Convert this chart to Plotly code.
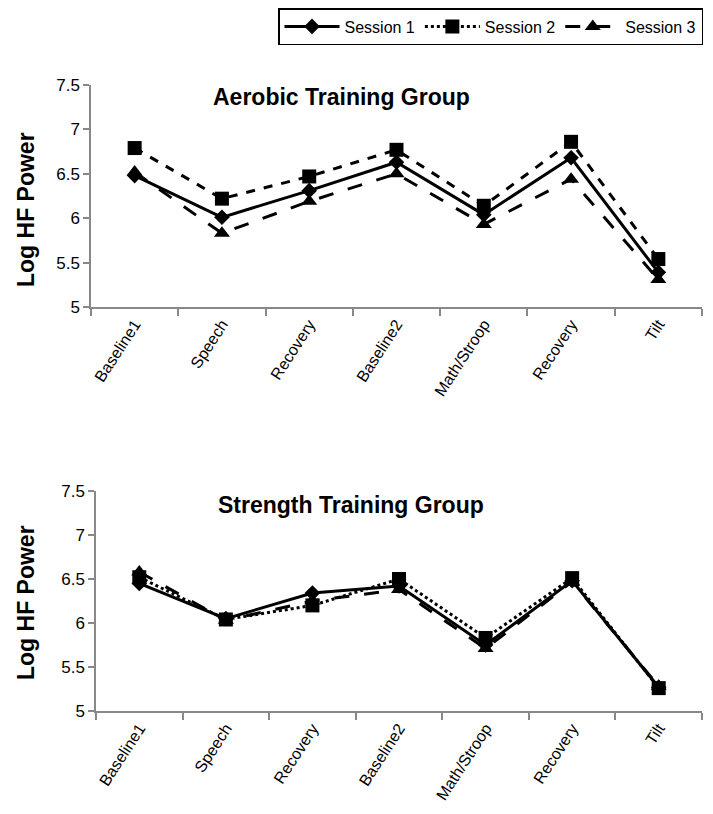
import plotly.graph_objects as go

phases = ["Baseline1", "Speech", "Recovery", "Baseline2", "Math/Stroop", "Recovery", "Tilt"]
sessions = ["Session 1", "Session 2", "Session 3"]

aerobic_s1 = [6.48, 6.01, 6.31, 6.63, 6.04, 6.68, 5.39]
aerobic_s2 = [6.79, 6.22, 6.47, 6.77, 6.14, 6.86, 5.54]
aerobic_s3 = [6.52, 5.83, 6.19, 6.50, 5.93, 6.44, 5.31]

strength_s1 = [6.45, 6.05, 6.34, 6.42, 5.75, 6.48, 5.27]
strength_s2 = [6.52, 6.04, 6.20, 6.50, 5.83, 6.51, 5.26]
strength_s3 = [6.58, 6.03, 6.25, 6.38, 5.71, 6.47, 5.28]

x = list(range(len(phases)))
markers = ["diamond", "square", "triangle-up"]
msizes = [12, 14, 14]

# page body has an 8px margin, so the figure is a bit smaller than the window
OFF = 8
W, H = 713 - OFF, 814 - OFF
L, T = 91 - OFF, 85 - OFF
R, B = 11, 103
PW, PH = W - L - R, H - T - B


def px(xp):
    return (xp - OFF - L) / PW


def py(yp):
    return 1 - (yp - OFF - T) / PH


fig = go.Figure()

# top panel: aerobic group (square line drawn dashed as in the original)
top_dash = ["solid", "dash", "longdash"]
for name, vals, sym, ms, dash in zip(sessions, [aerobic_s1, aerobic_s2, aerobic_s3], markers, msizes, top_dash):
    fig.add_trace(go.Scatter(
        x=x, y=vals, name=name, mode="lines+markers",
        line=dict(color="black", width=3, dash=dash),
        marker=dict(symbol=sym, size=ms, color="black"),
        xaxis="x", yaxis="y", showlegend=False
    ))

# bottom panel: strength group
bot_dash = ["solid", "dot", "longdash"]
for name, vals, sym, ms, dash in zip(sessions, [strength_s1, strength_s2, strength_s3], markers, msizes, bot_dash):
    fig.add_trace(go.Scatter(
        x=x, y=vals, name=name, mode="lines+markers",
        line=dict(color="black", width=3, dash=dash),
        marker=dict(symbol=sym, size=ms, color="black"),
        xaxis="x2", yaxis="y2"
    ))

xcommon = dict(
    range=[-0.5, 6.5], tickmode="array", tickvals=x, ticktext=phases,
    tickangle=-57, ticks="", showline=True, linecolor="#888", linewidth=1.5,
    showgrid=False, zeroline=False, automargin=False,
    tickfont=dict(family="Liberation Sans, Arial", size=16, color="black"),
    minor=dict(tick0=-0.5, dtick=1, ticks="outside", ticklen=7, tickcolor="#888", tickwidth=1.5),
)
ycommon = dict(
    range=[5, 7.5], tickmode="array", tickvals=[5, 5.5, 6, 6.5, 7, 7.5],
    ticktext=["5", "5.5", "6", "6.5", "7", "7.5"],
    ticks="outside", ticklen=6, tickcolor="#888", tickwidth=1.5,
    showline=True, linecolor="#888", linewidth=1.5,
    showgrid=False, zeroline=False, automargin=False,
    tickfont=dict(family="Liberation Sans, Arial", size=17, color="black"),
)

title_font = dict(family="Liberation Sans, Arial", size=23, color="black")

fig.update_layout(
    width=W, height=H,
    margin=dict(l=L, r=R, t=T, b=B, autoexpand=False),
    plot_bgcolor="white", paper_bgcolor="white",
    xaxis=dict(domain=[0, 1], anchor="y", **xcommon),
    yaxis=dict(domain=[py(307), 1], anchor="x", **ycommon),
    xaxis2=dict(domain=[px(96), 1], anchor="y2", **xcommon),
    yaxis2=dict(domain=[0, py(491)], anchor="x2", **ycommon),
    legend=dict(
        orientation="h", x=px(278), y=py(8), xanchor="left", yanchor="top",
        bordercolor="black", borderwidth=1.5, bgcolor="white",
        font=dict(family="Liberation Sans, Arial", size=16, color="black"),
        itemwidth=55,
    ),
    annotations=[
        dict(text="<b>Aerobic Training Group</b>", xref="paper", yref="paper",
             x=px(341), y=py(97), xanchor="center", yanchor="middle",
             showarrow=False, font=title_font),
        dict(text="<b>Strength Training Group</b>", xref="paper", yref="paper",
             x=px(351), y=py(505), xanchor="center", yanchor="middle",
             showarrow=False, font=title_font),
        dict(text="<b>Log HF Power</b>", xref="paper", yref="paper",
             x=px(26), y=py(210), xanchor="center", yanchor="middle",
             textangle=-90, showarrow=False, font=title_font),
        dict(text="<b>Log HF Power</b>", xref="paper", yref="paper",
             x=px(26), y=py(603), xanchor="center", yanchor="middle",
             textangle=-90, showarrow=False, font=title_font),
    ],
)

fig.write_html("out.html")
